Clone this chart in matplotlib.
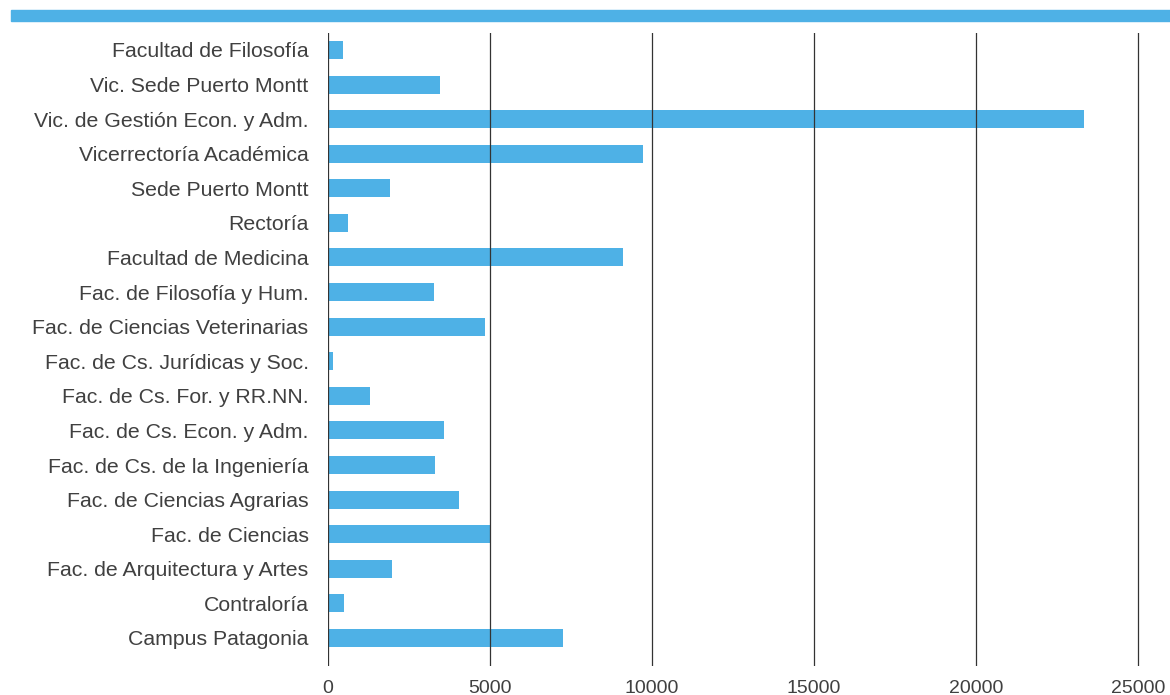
import matplotlib
matplotlib.use("Agg")
import matplotlib.pyplot as plt
from matplotlib.patches import Rectangle

# units, top to bottom as in the reference
unidades = [
    "Facultad de Filosofía",
    "Vic. Sede Puerto Montt",
    "Vic. de Gestión Econ. y Adm.",
    "Vicerrectoría Académica",
    "Sede Puerto Montt",
    "Rectoría",
    "Facultad de Medicina",
    "Fac. de Filosofía y Hum.",
    "Fac. de Ciencias Veterinarias",
    "Fac. de Cs. Jurídicas y Soc.",
    "Fac. de Cs. For. y RR.NN.",
    "Fac. de Cs. Econ. y Adm.",
    "Fac. de Cs. de la Ingeniería",
    "Fac. de Ciencias Agrarias",
    "Fac. de Ciencias",
    "Fac. de Arquitectura y Artes",
    "Contraloría",
    "Campus Patagonia",
]
valores = [460, 3460, 23330, 9720, 1910, 620, 9100, 3270, 4850,
           150, 1300, 3580, 3300, 4040, 5020, 1980, 490, 7250]
xticks = [0, 5000, 10000, 15000, 20000, 25000]

azul = "#4EB1E6"
gris = "#333333"
texto = "#404040"

plt.rcParams['font.family'] = ['Liberation Sans', 'DejaVu Sans']

fig = plt.figure(figsize=(11.7, 6.95), dpi=100)
ax = fig.add_axes([328/1170, 29/695, 826/1170, 633/695])

pos = list(range(len(unidades)))
ax.barh(pos, valores, height=0.52, color=azul, zorder=1)

ax.set_ylim(len(unidades) - 1 + 0.81, -0.49)
ax.set_xlim(0, 25500)
ax.set_yticks(pos)
ax.set_yticklabels(unidades, fontsize=15.3, color=texto)
ax.set_xticks(xticks)
ax.set_xticklabels([str(t) for t in xticks], fontsize=14, color=texto)
ax.tick_params(axis='y', length=0, pad=14)
ax.tick_params(axis='x', length=0, pad=10)

for t in xticks:
    ax.axvline(t, color=gris, linewidth=0.9, zorder=3)

for s in ax.spines.values():
    s.set_visible(False)

# blue band at the top
fig.patches.append(Rectangle((11/1170, 1 - 21/695), 1 - 11/1170, 11/695,
                             transform=fig.transFigure, color=azul, zorder=0))

fig.savefig("out.png", dpi=100)
